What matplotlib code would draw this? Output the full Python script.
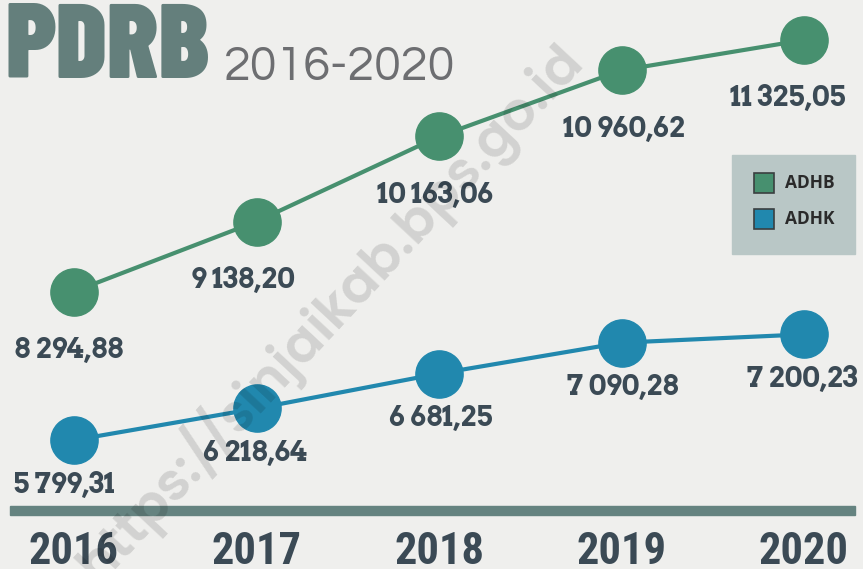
import matplotlib
matplotlib.use("Agg")
import matplotlib.pyplot as plt
from matplotlib.patches import Rectangle
import logging
logging.getLogger("matplotlib.font_manager").setLevel(logging.ERROR)

years = [2016, 2017, 2018, 2019, 2020]
adhb = [8294.88, 9138.20, 10163.06, 10960.62, 11325.05]
adhk = [5799.31, 6218.64, 6681.25, 7090.28, 7200.23]
adhb_labels = ["8 294,88", "9 138,20", "10 163,06", "10 960,62", "11 325,05"]
adhk_labels = ["5 799,31", "6 218,64", "6 681,25", "7 090,28", "7 200,23"]
series_names = ["ADHB", "ADHK"]

BG = "#efefed"
GREEN = "#47906f"
BLUE = "#2188ae"
TXT = "#3b4a55"
TEAL = "#658380"

F_TITLE = ["Barlow Condensed", "Anton", "DejaVu Sans"]
F_SUB = ["Questrial", "Poppins", "DejaVu Sans"]
F_YEAR = ["Roboto Condensed", "Archivo Narrow", "DejaVu Sans"]
F_LAB = ["Arvo", "DejaVu Serif"]
F_LEG = ["Open Sans", "DejaVu Sans"]
F_WM = ["Poppins", "DejaVu Sans"]

W, H, DPI = 863, 569, 100
fig = plt.figure(figsize=(W / DPI, H / DPI), dpi=DPI, facecolor=BG)

# x scale: 2016 at px 74, 2020 at px 804
ppy = (804 - 74) / 4
xlim = (2016 - 74 / ppy, 2020 + (W - 804) / ppy)

def ylim_for(a, b):
    # pixel row = a - b * value
    return ((a - H) / b, a / b)

ax1 = fig.add_axes([0, 0, 1, 1])
ax2 = fig.add_axes([0, 0, 1, 1])
for ax in (ax1, ax2):
    ax.set_xlim(*xlim)
    ax.axis("off")
    ax.patch.set_alpha(0)
ax1.set_ylim(*ylim_for(980, 0.083))
ax2.set_ylim(*ylim_for(878, 0.0755))

ax1.plot(years, adhb, color=GREEN, lw=3, marker="o", ms=34, zorder=3)
ax2.plot(years, adhk, color=BLUE, lw=3, marker="o", ms=34, zorder=3)

dx1 = [-4, -10, -3, 2, -12]
dx2 = [-7, -1, 1, 1, -1]
lab_font = dict(family=F_LAB, fontweight="bold", fontsize=20, color=TXT,
                ha="center", va="center")
for x, v, t, dx in zip(years, adhb, adhb_labels, dx1):
    ax1.annotate(t, (x, v), xytext=(dx, -42), textcoords="offset points", **lab_font)
for x, v, t, dx in zip(years, adhk, adhk_labels, dx2):
    ax2.annotate(t, (x, v), xytext=(dx, -32), textcoords="offset points", **lab_font)

# bottom bar and year labels
fig.patches.append(Rectangle((10 / W, 1 - 515 / H), 845 / W, 9 / H, transform=fig.transFigure,
                             color=TEAL, zorder=1))
for x in years:
    ax1.annotate(str(x), (x, 0), xycoords=("data", "figure fraction"), xytext=(0, 3.5),
                 textcoords="offset points", ha="center", va="baseline",
                 fontsize=32, fontweight="bold", family=F_YEAR, color=TXT)

# title
fig.text(5 / W, 1 - 78 / H, "PDRB", fontsize=76, fontweight="black", family=F_TITLE,
         color="#647f7c", ha="left", va="baseline")
fig.text(224 / W, 1 - 80 / H, "2016-2020", fontsize=35, family=F_SUB,
         color="#6d6e71", ha="left", va="baseline")

# legend box
fig.patches.append(Rectangle((732 / W, 1 - 254 / H), 123 / W, 99 / H, transform=fig.transFigure,
                             color="#b9c7c6", zorder=2))
for i, (name, c) in enumerate(zip(series_names, [GREEN, BLUE])):
    yc = 183 + i * 36
    fig.patches.append(Rectangle((754 / W, 1 - (yc + 10) / H), 20 / W, 20 / H,
                                 transform=fig.transFigure, facecolor=c,
                                 edgecolor="#3a3f40", lw=1.2, zorder=3))
    fig.text(785 / W, 1 - yc / H, name, fontsize=12.5, fontweight="bold",
             family=F_LEG, color="#2a2a2a", ha="left", va="center", zorder=4)

# watermark
fig.text(585 / W, 1 - 62 / H, "https://sinjaikab.bps.go.id", rotation=47,
         rotation_mode="anchor", ha="right", va="baseline",
         fontsize=38, fontweight="semibold", color="black", alpha=0.12, family=F_WM, zorder=10)

fig.savefig("out.png", dpi=DPI, facecolor=BG)
